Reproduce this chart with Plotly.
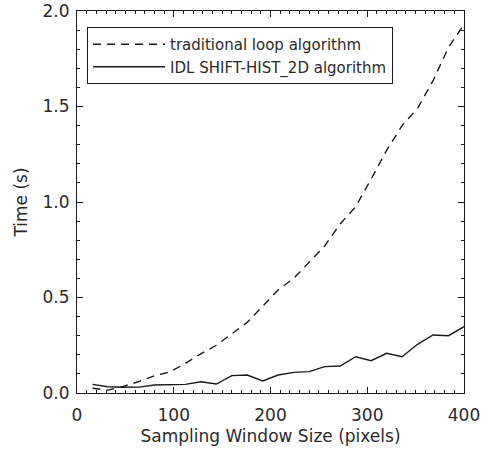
import plotly.graph_objects as go

window_size = [16, 32, 48, 64, 80, 96, 112, 128, 144, 160, 176, 192, 208,
               224, 240, 256, 272, 288, 304, 320, 336, 352, 368, 384, 400]
loop_time = [0.025, 0.015, 0.035, 0.06, 0.09, 0.11, 0.155, 0.205, 0.25, 0.31,
             0.37, 0.455, 0.54, 0.60, 0.685, 0.77, 0.885, 0.975, 1.12, 1.27,
             1.40, 1.49, 1.635, 1.81, 1.93]
hist_time = [0.045, 0.033, 0.030, 0.031, 0.042, 0.045, 0.045, 0.059, 0.047,
             0.091, 0.094, 0.063, 0.094, 0.108, 0.112, 0.138, 0.141, 0.190,
             0.169, 0.208, 0.190, 0.255, 0.304, 0.300, 0.347]

x_ticks = [0, 100, 200, 300, 400]
y_ticks = [0.0, 0.5, 1.0, 1.5, 2.0]

INK = "#1a1a1a"
TXT = "#2a2a2a"
FONT = "DejaVu Sans"

fig = go.Figure()
fig.add_trace(go.Scatter(x=window_size, y=loop_time, mode="lines",
                         name="traditional loop algorithm",
                         line=dict(color=INK, width=1.4, dash="8px,6px")))
fig.add_trace(go.Scatter(x=window_size, y=hist_time, mode="lines",
                         name="IDL SHIFT-HIST_2D algorithm",
                         line=dict(color=INK, width=1.4)))

axis_common = dict(showline=True, linecolor=INK, linewidth=1.2, mirror="allticks",
                   ticks="inside", ticklen=6, tickcolor=INK, tickwidth=1,
                   showgrid=False, zeroline=False, automargin=False,
                   tickfont=dict(family=FONT, size=17, color=TXT),
                   title_font=dict(family=FONT, size=17, color=TXT))

fig.update_xaxes(range=[0, 400], tickvals=x_ticks,
                 minor=dict(ticks="inside", dtick=10, ticklen=3, tickcolor=INK),
                 title_text="Sampling Window Size (pixels)", title_standoff=6,
                 ticklabelstandoff=6,
                 **axis_common)
fig.update_yaxes(range=[0, 2.0], tickvals=y_ticks, tickformat=".1f",
                 minor=dict(ticks="inside", dtick=0.1, ticklen=3, tickcolor=INK),
                 title_text="Time (s)", title_standoff=10,
                 ticklabelstandoff=3,
                 **axis_common)

fig.update_layout(
    width=481, height=450,
    margin=dict(l=77, r=17, t=11, b=57),
    paper_bgcolor="white", plot_bgcolor="white",
    showlegend=True,
    legend=dict(x=0.026, y=0.958, xanchor="left", yanchor="top",
                bordercolor=INK, borderwidth=1, bgcolor="white",
                font=dict(family=FONT, size=15, color=TXT),
                itemwidth=72, tracegroupgap=0,
                indentation=0),
)

fig.write_html("out.html")
